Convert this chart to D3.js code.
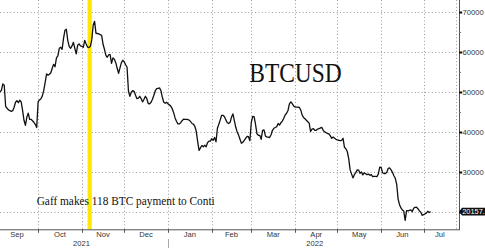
<!DOCTYPE html>
<html>
<head>
<meta charset="utf-8">
<script src="https://cdn.jsdelivr.net/npm/d3@7"></script>
<style>
  body { margin:0; background:#fff; }
  svg { display:block; }
  .grid line { stroke:#9a9a9a; stroke-width:1; stroke-dasharray:1,2.4; }
  .lbl { font-family:"Liberation Sans", Arial, sans-serif; font-size:7.6px; fill:#333; }
</style>
</head>
<body>
<script>
// BTCUSD daily closes, 4 Sep 2021 -> 6 Jul 2022
var firstDay = new Date(2021, 8, 4);
var lastAxisDay = new Date(2022, 6, 24);
var closes = [
  50100,50500,52100,51750,46500,46000,45600,45400,45250,45400,
  46250,47500,47900,47400,48000,47600,45500,43000,41750,43750,
  44800,43250,43250,42900,42500,42000,41200,47600,48100,48400,
  49100,50500,52500,54600,54300,54500,54900,56000,57000,56400,
  58600,59100,61000,61250,60750,63500,65500,65750,63000,61500,
  61000,61600,62500,61000,59600,61750,62100,61600,61500,61250,
  63000,62100,61300,61200,61500,63100,66750,67750,64750,64700,
  64600,64400,64250,62000,60750,59250,58750,59400,59400,57250,
  58600,58250,57400,56000,54750,56100,57400,58000,57600,56900,
  56250,50250,49000,50000,50400,50250,49250,48400,48550,49000,
  48400,47600,48250,49000,48400,47200,47100,47500,48250,49250,
  50400,50900,51000,51100,50400,48750,47500,47250,47500,47100,
  46900,46500,45900,44900,43600,42750,42100,42100,42400,42900,
  43300,43250,43250,43200,43050,42700,42200,42050,41500,40250,
  37750,35500,36100,36700,36400,36750,36400,37400,37800,37800,
  38400,38000,38700,37600,41000,42000,43100,44250,44250,43900,
  43100,42400,42200,42500,43800,44600,42900,41250,40100,39300,
  38250,37250,37500,38000,38500,39000,38900,37900,42500,44000,
  43900,42000,39600,39250,39250,38250,40500,40600,39100,38800,
  38800,38700,39400,40500,41000,41200,41400,42200,41800,42400,
  42800,43500,44350,44750,45450,47100,47600,47150,46600,46300,
  46300,46300,46200,45600,44350,43700,43400,43000,42650,42300,
  40200,40800,40900,40500,40500,40800,40900,41100,41200,40450,
  40100,39900,39700,39600,39100,38500,38800,38500,38250,38100,
  38000,37900,38000,38500,36250,35900,35200,33400,30600,29600,
  28600,29400,29900,30600,30550,29750,30100,29350,29850,29650,
  29400,29550,29250,29400,28900,29000,29000,28900,29600,31300,
  31250,29900,29700,29700,30000,31000,31100,30600,30000,29150,
  28500,27000,23300,21900,21100,20600,20300,18000,20400,20350,
  20500,20600,20150,21000,21250,21300,20900,20400,20050,19250,
  19400,19600,19800,20250,19950,20157
];
var yTicks = [20000,30000,40000,50000,60000,70000];
var yMinorTicks = [20000,25000,30000,35000,40000,45000,50000,55000,60000,65000,70000];
var yearLabels = ["2021","2022"];
var lastLabel = "20157.";
var title = "BTCUSD";
var note = "Gaff makes 118 BTC payment to Conti";
var eventStart = new Date(2021, 10, 5);
var eventEnd = new Date(2021, 10, 8);

var W = 485, H = 248;
var plotRight = 456, axisX = 459, plotBottom = 229.3;

var days = d3.timeDay.range(firstDay, d3.timeDay.offset(firstDay, closes.length));
var series = days.map(function(d, i){ return {date:d, value:closes[i]}; });

var x = d3.scaleTime().domain([firstDay, lastAxisDay]).range([0, plotRight]);
var y = d3.scaleLinear().domain([15750, 73075]).range([plotBottom, 0]);

var svg = d3.select("body").append("svg").attr("width", W).attr("height", H);

var months = d3.timeMonth.range(new Date(2021, 9, 1), lastAxisDay);

// grid
var grid = svg.append("g").attr("class", "grid");
grid.selectAll(".hg").data(yTicks).enter().append("line")
  .attr("x1", 0).attr("x2", plotRight)
  .attr("y1", function(d){ return Math.round(y(d)) + 0.5; })
  .attr("y2", function(d){ return Math.round(y(d)) + 0.5; });
grid.selectAll(".vg").data(months.concat([lastAxisDay])).enter().append("line")
  .attr("y1", 0).attr("y2", plotBottom)
  .attr("x1", function(d){ return Math.round(x(d)) + 0.5; })
  .attr("x2", function(d){ return Math.round(x(d)) + 0.5; });

// event bar
svg.append("rect")
  .attr("x", x(eventStart)).attr("y", 0)
  .attr("width", x(eventEnd) - x(eventStart)).attr("height", plotBottom)
  .attr("fill", "#ffe800");

// price line
var line = d3.line().x(function(d){ return x(d.date); }).y(function(d){ return y(d.value); });
svg.append("path").datum(series)
  .attr("d", line).attr("fill", "none")
  .attr("stroke", "#111").attr("stroke-width", 1.3).attr("stroke-linejoin", "round");

// title + note
svg.append("text").text(title)
  .attr("x", 249.3).attr("y", 81.7)
  .attr("textLength", 92.4).attr("lengthAdjust", "spacingAndGlyphs")
  .style("font-family", "'Liberation Serif', 'Times New Roman', serif")
  .style("font-size", "27.5px").style("fill", "#111");
svg.append("text").text(note)
  .attr("x", 36.7).attr("y", 205)
  .attr("textLength", 178).attr("lengthAdjust", "spacingAndGlyphs")
  .style("font-family", "'Liberation Serif', 'Times New Roman', serif")
  .style("font-size", "11.8px").style("fill", "#111");

// bottom axis
var xAxis = svg.append("g");
xAxis.append("line").attr("x1", 0).attr("x2", axisX)
  .attr("y1", plotBottom + 0.5).attr("y2", plotBottom + 0.5).attr("stroke", "#555");
xAxis.selectAll(".tk").data(months).enter().append("line")
  .attr("x1", function(d){ return Math.round(x(d)) + 0.5; })
  .attr("x2", function(d){ return Math.round(x(d)) + 0.5; })
  .attr("y1", plotBottom).attr("y2", plotBottom + 3.5).attr("stroke", "#555");

var monthAll = d3.timeMonth.range(new Date(2021, 8, 1), lastAxisDay);
var monthCenter = function(d){
  var a = x(d), b = Math.min(x(d3.timeMonth.offset(d, 1)), plotRight);
  return (a + b) / 2;
};
xAxis.selectAll(".ml").data(monthAll).enter().append("text")
  .attr("class", "lbl")
  .attr("x", monthCenter).attr("y", 237.2)
  .attr("text-anchor", "middle")
  .text(d3.timeFormat("%b"));

yearLabels.forEach(function(yr){
  var ms = monthAll.filter(function(d){ return d.getFullYear() == +yr; });
  var cx = (monthCenter(ms[0]) + monthCenter(ms[ms.length - 1])) / 2;
  xAxis.append("text").attr("class", "lbl")
    .attr("x", cx).attr("y", 246.2).attr("text-anchor", "middle").text(yr);
});
xAxis.append("line")
  .attr("x1", Math.round(x(new Date(2022, 0, 1))) + 0.5)
  .attr("x2", Math.round(x(new Date(2022, 0, 1))) + 0.5)
  .attr("y1", 239).attr("y2", H).attr("stroke", "#aaa");

// right axis
var yAxis = svg.append("g");
yAxis.append("line").attr("x1", axisX + 0.5).attr("x2", axisX + 0.5)
  .attr("y1", 0).attr("y2", plotBottom + 1).attr("stroke", "#555");
yAxis.selectAll(".mn").data(yMinorTicks).enter().append("line")
  .attr("x1", axisX).attr("x2", axisX + 2)
  .attr("y1", function(d){ return Math.round(y(d)) + 0.5; })
  .attr("y2", function(d){ return Math.round(y(d)) + 0.5; })
  .attr("stroke", "#777");
yAxis.selectAll(".mj").data(yTicks).enter().append("rect")
  .attr("x", axisX).attr("width", 3.2)
  .attr("y", function(d){ return Math.round(y(d)) - 0.5; }).attr("height", 2)
  .attr("fill", "#111");
yAxis.selectAll(".yl").data(yTicks.filter(function(d){ return d != 20000; })).enter().append("text")
  .attr("class", "lbl")
  .attr("x", 462.5).attr("y", function(d){ return y(d) + 2.8; })
  .text(function(d){ return d; });

// last value tag
var last = series[series.length - 1];
var ty = y(last.value);
yAxis.append("path")
  .attr("d", "M" + axisX + "," + ty + "L" + (axisX + 3) + "," + (ty - 3.8) + "L" + W + "," + (ty - 3.8) +
    "L" + W + "," + (ty + 3.8) + "L" + (axisX + 3) + "," + (ty + 3.8) + "Z")
  .attr("fill", "#111");
yAxis.append("text").attr("class", "lbl")
  .attr("x", 462.2).attr("y", ty + 2.8)
  .style("fill", "#fff").style("font-size", "7.4px")
  .text(lastLabel);
</script>
</body>
</html>
